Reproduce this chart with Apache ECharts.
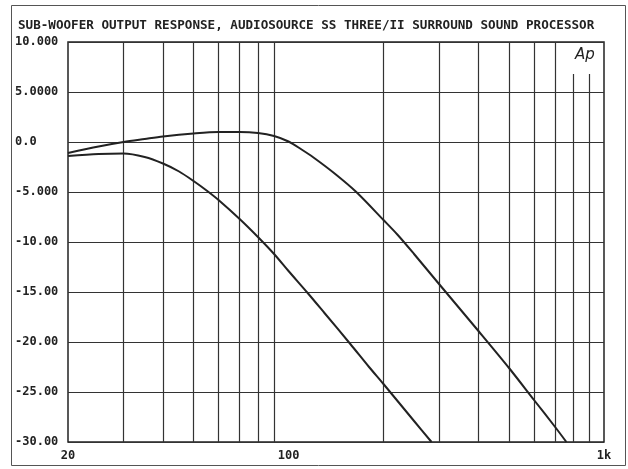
<!DOCTYPE html>
<html>
<head>
<meta charset="utf-8">
<script src="https://cdn.jsdelivr.net/npm/echarts@6/dist/echarts.min.js"></script>
<style>
html,body{margin:0;padding:0;background:#fff;}
#chart{width:628px;height:469px;}
</style>
</head>
<body>
<div id="chart"></div>
<script>
// ---- data ----
const titleText = 'SUB-WOOFER OUTPUT RESPONSE, AUDIOSOURCE SS THREE/II SURROUND SOUND PROCESSOR';
const freqUpper = [20, 25, 30, 35, 40, 50, 60, 70, 80, 90, 100, 110, 120, 140, 164, 200, 222, 250, 300, 400, 500, 600, 700, 760];
const dbUpper   = [-1.1, -0.45, 0.0, 0.3, 0.55, 0.85, 1.0, 1.0, 0.9, 0.6, 0.05, -0.75, -1.55, -3.15, -5.0, -7.8, -9.3, -11.2, -14.2, -18.9, -22.6, -25.8, -28.5, -30];
const freqLower = [20, 25, 30, 35, 40, 45, 50, 55, 60, 70, 80, 90, 100, 115, 130, 157, 180, 200, 250, 284];
const dbLower   = [-1.4, -1.2, -1.15, -1.5, -2.15, -2.95, -3.9, -4.85, -5.8, -7.7, -9.5, -11.2, -12.9, -15.1, -17.1, -20.2, -22.5, -24.2, -27.9, -30];
const xTickValues = [20, 100, 1000];
const xTickLabels = ['20', '100', '1k'];
const xGridValues = [30, 40, 50, 60, 70, 80, 90, 200, 300, 400, 500, 600, 700, 800, 900];
const yTickValues = [-30, -25, -20, -15, -10, -5, 0, 5, 10];
const yTickLabels = ['-30.00', '-25.00', '-20.00', '-15.00', '-10.00', '-5.000', '0.0', '5.0000', '10.000'];
const cornerLabel = 'Ap';

const mono = '"DejaVu Sans Mono", "Liberation Mono", monospace';
const ink = '#222';

const chart = echarts.init(document.getElementById('chart'), null, {renderer: 'canvas'});
const pair = (xs, ys) => xs.map((x, i) => [x, ys[i]]);

chart.setOption({
  animation: false,
  backgroundColor: '#fff',
  title: {
    text: titleText,
    left: 13, top: 14,
    textStyle: {fontFamily: mono, fontWeight: 'bold', fontSize: 12.6, color: ink}
  },
  grid: {
    left: 68, top: 42, width: 536, height: 400,
    show: true, borderColor: ink, borderWidth: 1.5, backgroundColor: 'transparent'
  },
  xAxis: {
    type: 'log', logBase: 10, min: 20, max: 1000,
    axisLine: {show: false}, axisTick: {show: false},
    splitLine: {show: false}, minorTick: {show: false},
    axisLabel: {
      show: true, margin: 8, showMinLabel: true, showMaxLabel: true,
      fontFamily: mono, fontWeight: 'bold', fontSize: 12, color: ink,
      formatter: v => {
        const i = xTickValues.findIndex(t => Math.abs(t - v) < 1e-6 * t);
        return i >= 0 ? xTickLabels[i] : '';
      }
    }
  },
  yAxis: {
    type: 'value', min: -30, max: 10, interval: 5,
    axisLine: {show: false}, axisTick: {show: false},
    splitLine: {show: true, lineStyle: {color: '#333', width: 1.2}},
    axisLabel: {
      margin: 53, align: 'left',
      fontFamily: mono, fontWeight: 'bold', fontSize: 12, color: ink,
      formatter: v => {
        const i = yTickValues.indexOf(v);
        return i >= 0 ? yTickLabels[i] : '';
      }
    }
  },
  series: [
    {
      type: 'line', name: 'upper', data: pair(freqUpper, dbUpper),
      smooth: 0.3, showSymbol: false, symbol: 'none', z: 5,
      lineStyle: {color: ink, width: 2}
    },
    {
      type: 'line', name: 'lower', data: pair(freqLower, dbLower),
      smooth: 0.3, showSymbol: false, symbol: 'none', z: 5,
      lineStyle: {color: ink, width: 2},
      markLine: {
        silent: true, symbol: ['none', 'none'], z: 1,
        label: {show: false},
        lineStyle: {color: '#333', type: 'solid', width: 1.2},
        data: xGridValues.map(v => ({xAxis: v}))
      }
    }
  ],
  graphic: [
    {type: 'rect', z: 100, shape: {x: 562, y: 43, width: 41, height: 31}, style: {fill: '#fff'}},
    {type: 'text', z: 101, left: 575, top: 48,
     style: {text: cornerLabel, font: 'italic 15px "DejaVu Sans", sans-serif', fill: ink}},
    {type: 'rect', z: 100, shape: {x: 11.5, y: 5.5, width: 614, height: 460},
     style: {fill: 'none', stroke: '#555', lineWidth: 1}}
  ]
});
</script>
</body>
</html>
